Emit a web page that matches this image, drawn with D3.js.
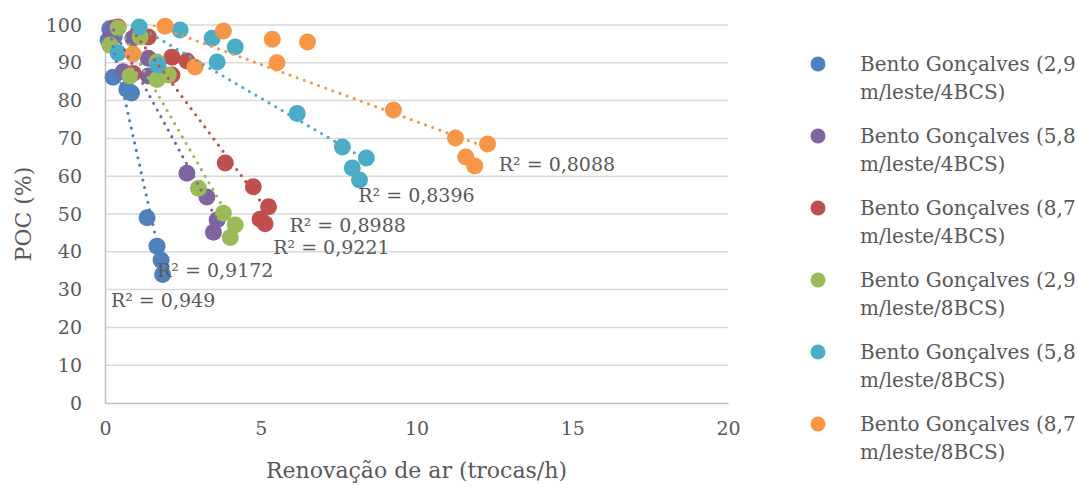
<!DOCTYPE html>
<html>
<head>
<meta charset="utf-8">
<script src="https://cdn.jsdelivr.net/npm/d3@7"></script>
<style>
  html, body { margin: 0; padding: 0; background: #ffffff; }
  svg { display: block; }
  text { font-family: "DejaVu Serif", "Liberation Serif", serif; fill: #595959; }
</style>
</head>
<body>
<svg id="chart" width="1078" height="486"></svg>
<script>
// Series names (legend order)
const seriesNames = [
  "Bento Gonçalves (2,9 m/leste/4BCS)",
  "Bento Gonçalves (5,8 m/leste/4BCS)",
  "Bento Gonçalves (8,7 m/leste/4BCS)",
  "Bento Gonçalves (2,9 m/leste/8BCS)",
  "Bento Gonçalves (5,8 m/leste/8BCS)",
  "Bento Gonçalves (8,7 m/leste/8BCS)"
];

// Air changes per hour (x) and POC % (y) for each series
const xBlue   = [0.10, 0.15, 0.30, 0.26, 0.70, 0.85, 1.35, 1.67, 1.80, 1.85];
const yBlue   = [96.0, 99.0, 97.0, 86.2, 83.0, 82.0, 49.0, 41.5, 37.8, 34.0];

const xPurple = [0.20, 0.27, 0.16, 0.90, 0.58, 1.39, 1.39, 2.63, 3.27, 3.60, 3.48];
const yPurple = [97.0, 99.2, 94.7, 96.5, 87.6, 91.2, 86.5, 60.8, 54.5, 48.4, 45.2];

const xRed    = [0.42, 1.39, 2.15, 2.63, 0.90, 2.15, 3.86, 4.76, 5.25, 4.98, 5.14];
const yRed    = [99.5, 96.8, 91.5, 90.5, 87.2, 86.8, 63.5, 57.2, 51.9, 48.6, 47.4];

const xGreen  = [0.42, 0.16, 1.13, 0.80, 1.67, 1.67, 2.03, 3.00, 3.80, 4.18, 4.02];
const yGreen  = [99.2, 94.7, 96.8, 86.5, 90.2, 85.6, 86.8, 56.8, 50.2, 47.1, 43.8];

const xTeal   = [1.10, 2.41, 3.44, 4.18, 3.60, 0.42, 1.70, 6.17, 7.62, 8.39, 7.94, 8.17];
const yTeal   = [99.5, 98.7, 96.5, 94.2, 90.2, 92.6, 89.4, 76.6, 67.7, 64.8, 62.2, 59.0];

const xOrange = [1.93, 3.80, 0.90, 2.89, 5.37, 5.52, 6.50, 9.26, 11.25, 12.28, 11.58, 11.87];
const yOrange = [99.7, 98.4, 92.3, 88.9, 96.2, 90.0, 95.5, 77.5, 70.1, 68.5, 65.1, 62.7];

// Coefficient of determination shown next to each trendline
const rSquared = ["0,949", "0,9172", "0,8988", "0,9221", "0,8396", "0,8088"];

// Axis ticks
const xTicks = [0, 5, 10, 15, 20];
const yTicks = [0, 10, 20, 30, 40, 50, 60, 70, 80, 90, 100];

// ---- layout ----
const colors = ["#4F81BD", "#8064A2", "#C0504D", "#9BBB59", "#4BACC6", "#F79646"];
const plot = { left: 105, right: 728, top: 25, bottom: 403 };
// where each R² label sits, in data units (left edge, vertical centre)
const rLabelAnchor = [[0.19, 27.2], [1.67, 35.2], [5.92, 47.1], [5.40, 41.3], [8.13, 55.0], [12.64, 63.2]];

const xs = [xBlue, xPurple, xRed, xGreen, xTeal, xOrange];
const ys = [yBlue, yPurple, yRed, yGreen, yTeal, yOrange];
const series = seriesNames.map((name, i) => ({
  name, color: colors[i], r2: rSquared[i], anchor: rLabelAnchor[i],
  points: xs[i].map((x, j) => ({ x, y: ys[i][j] }))
}));

const svg = d3.select("#chart");
const x = d3.scaleLinear().domain([0, 20]).range([plot.left, plot.right]);
const y = d3.scaleLinear().domain([0, 100]).range([plot.bottom, plot.top]);

svg.append("rect").attr("width", 1078).attr("height", 486).attr("fill", "#fff");

// horizontal gridlines
svg.append("g")
  .selectAll("line")
  .data(yTicks.filter(t => t > 0))
  .join("line")
  .attr("x1", plot.left).attr("x2", plot.right)
  .attr("y1", d => y(d)).attr("y2", d => y(d))
  .attr("stroke", "#D9D9D9").attr("stroke-width", 1.5);

// y axis
const yAxis = svg.append("g")
  .attr("transform", `translate(${plot.left},0)`)
  .call(d3.axisLeft(y).tickValues(yTicks).tickSize(0).tickPadding(23));
yAxis.select(".domain").attr("stroke", "#BFBFBF").attr("stroke-width", 1.5);
yAxis.selectAll("text").attr("font-size", 19).attr("font-family", "DejaVu Serif").attr("fill", "#595959");

// x axis
const xAxis = svg.append("g")
  .attr("transform", `translate(0,${plot.bottom})`)
  .call(d3.axisBottom(x).tickValues(xTicks).tickSize(0).tickPadding(19));
xAxis.select(".domain").attr("stroke", "#BFBFBF").attr("stroke-width", 1.5);
xAxis.selectAll("text").attr("font-size", 19).attr("font-family", "DejaVu Serif").attr("fill", "#595959");

// axis titles
svg.append("text")
  .attr("x", (plot.left + plot.right) / 2).attr("y", 478)
  .attr("text-anchor", "middle").attr("font-size", 22)
  .text("Renovação de ar (trocas/h)");
svg.append("text")
  .attr("transform", `translate(31,${(plot.top + plot.bottom) / 2}) rotate(-90)`)
  .attr("text-anchor", "middle").attr("font-size", 22)
  .text("POC (%)");

// markers
svg.append("g")
  .selectAll("g")
  .data(series)
  .join("g")
  .attr("fill", d => d.color)
  .selectAll("circle")
  .data(d => d.points)
  .join("circle")
  .attr("cx", d => x(d.x)).attr("cy", d => y(d.y)).attr("r", 8.5);

// linear trendlines (least squares), clipped to the plot area
svg.append("clipPath").attr("id", "plotClip")
  .append("rect")
  .attr("x", plot.left).attr("y", plot.top)
  .attr("width", plot.right - plot.left).attr("height", plot.bottom - plot.top);

function fit(points) {
  const mx = d3.mean(points, p => p.x), my = d3.mean(points, p => p.y);
  const sxy = d3.sum(points, p => (p.x - mx) * (p.y - my));
  const sxx = d3.sum(points, p => (p.x - mx) ** 2);
  const b = sxy / sxx;
  return { a: my - b * mx, b };
}

svg.append("g")
  .attr("clip-path", "url(#plotClip)")
  .selectAll("line")
  .data(series)
  .join("line")
  .each(function (d) {
    const { a, b } = fit(d.points);
    const [x0, x1] = d3.extent(d.points, p => p.x);
    d3.select(this)
      .attr("x1", x(x0)).attr("y1", y(a + b * x0))
      .attr("x2", x(x1)).attr("y2", y(a + b * x1));
  })
  .attr("stroke", d => d.color)
  .attr("stroke-width", 3.2)
  .attr("stroke-linecap", "round")
  .attr("stroke-dasharray", "0 7.6");

// R² labels
svg.append("g")
  .selectAll("text")
  .data(series)
  .join("text")
  .attr("x", d => x(d.anchor[0]))
  .attr("y", d => y(d.anchor[1]))
  .attr("dy", "0.35em")
  .attr("font-size", 19)
  .text(d => `R² = ${d.r2}`);

// legend
const legend = svg.append("g")
  .selectAll("g")
  .data(series)
  .join("g")
  .attr("transform", (d, i) => `translate(818,${64 + i * 72})`);
legend.append("circle").attr("r", 7.5).attr("fill", d => d.color);
legend.append("text")
  .attr("x", 42).attr("font-size", 20)
  .each(function (d) {
    const cut = d.name.indexOf(" m/");
    const t = d3.select(this);
    t.append("tspan").attr("x", 42).attr("dy", "0.35em").text(d.name.slice(0, cut));
    t.append("tspan").attr("x", 42).attr("dy", 28).text(d.name.slice(cut + 1));
  });
</script>
</body>
</html>
